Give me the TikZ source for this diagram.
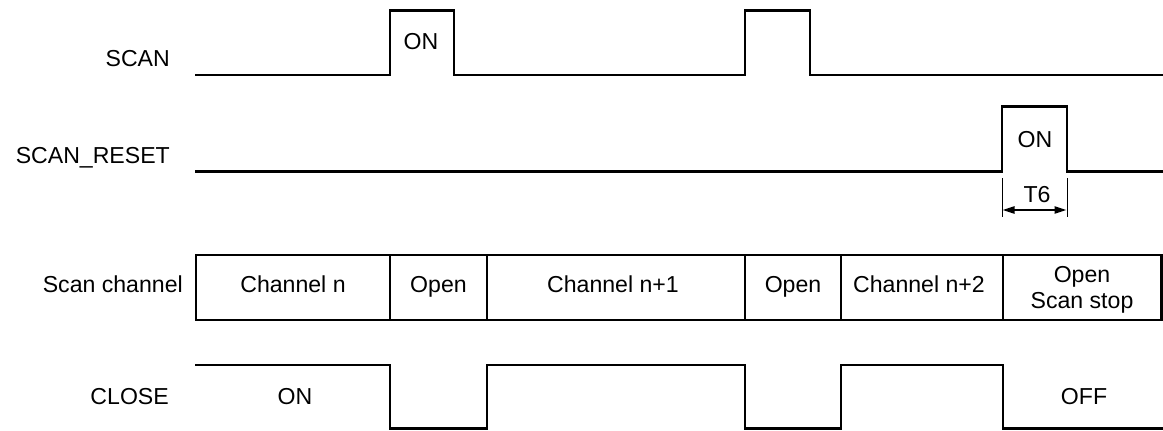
\documentclass[tikz,border=0pt]{standalone}
\usepackage{fontspec}
\setmainfont{Liberation Sans}
\usetikzlibrary{arrows.meta}
\begin{document}
\begin{tikzpicture}[x=1pt,y=-1pt,
  font=\fontsize{23.1}{26}\selectfont,
  wave/.style={line width=2.7pt, line join=miter, line cap=rect},
  lbl/.style={inner sep=0pt},
  extline/.style={line width=1pt},
  dimarrow/.style={line width=2.2pt, {Triangle[length=12pt,width=7pt]}-{Triangle[length=12pt,width=7pt]}, shorten <=0.5pt, shorten >=0.5pt}]
\useasboundingbox (0,0) rectangle (1163,431);
% signal names
\node[lbl, anchor=base east] (lscan)  at (170,66)  {SCAN};
\node[lbl, anchor=base east] (lreset) at (170,163) {SCAN\_RESET};
\node[lbl, anchor=base east] (lchan)  at (183,292.5) {Scan channel};
\node[lbl, anchor=base east] (lclose) at (169,404) {CLOSE};
% SCAN
\draw[wave] (196,75) -- (390,75) -- (390,10.7) -- (454,10.7) -- (454,75)
  -- (745,75) -- (745,10.7) -- (810,10.7) -- (810,75) -- (1164,75);
\node[lbl, anchor=base] (scanon) at (421,49) {ON};
% SCAN_RESET
\draw[wave] (196,171.7) -- (1002,171.7) -- (1002,106.7) -- (1067,106.7)
  -- (1067,171.7) -- (1164,171.7);
\node[lbl, anchor=base] (reseton) at (1035,147) {ON};
% T6 dimension
\coordinate (ta) at (1002,178);
\coordinate (tb) at (1067,178);
\coordinate (tc) at (1002,217);
\coordinate (td) at (1067,217);
\draw[extline] (ta) -- (tc);
\draw[extline] (tb) -- (td);
\coordinate (aa) at (1002,210);
\coordinate (ab) at (1067,210);
\draw[dimarrow] (aa) -- (ab);
\node[lbl, anchor=base] (t6) at (1037,202) {T6};
% Scan channel boxes
\draw[wave] (196,255) rectangle (1161.5,320);
\foreach \xx in {390,487,745,841,1003} \draw[wave] (\xx,255) -- (\xx,320);
\node[lbl, anchor=base] (c1) at (293,292.5) {Channel n};
\node[lbl, anchor=base] (c2) at (438.5,292.5) {Open};
\node[lbl, anchor=base] (c3) at (613,292.5) {Channel n+1};
\node[lbl, anchor=base] (c4) at (793,292.5) {Open};
\node[lbl, anchor=base] (c5) at (919,292.5) {Channel n+2};
\node[lbl, anchor=base] (c6a) at (1082,282) {Open};
\node[lbl, anchor=base] (c6b) at (1082,308) {Scan stop};
% CLOSE
\draw[wave] (196,365) -- (390,365) -- (390,428.5) -- (487,428.5) -- (487,365)
  -- (745,365) -- (745,428.5) -- (841,428.5) -- (841,365) -- (1003,365)
  -- (1003,428.5) -- (1164,428.5);
\node[lbl, anchor=base] (closeon) at (295,404) {ON};
\node[lbl, anchor=base] (closeoff) at (1084,404) {OFF};
\end{tikzpicture}
\end{document}
